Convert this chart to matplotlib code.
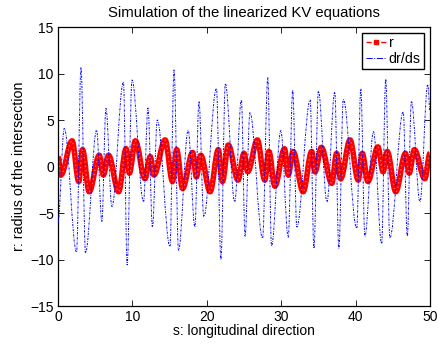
import matplotlib
matplotlib.use("Agg")
import matplotlib.pyplot as plt
from matplotlib.path import Path
from matplotlib.patches import PathPatch
from matplotlib.lines import Line2D

plt.rcParams['font.family'] = ['Liberation Sans', 'DejaVu Sans']
plt.rcParams['font.size'] = 10

# turning points of r(s)
r_s = [0.0, 0.4, 1.9, 2.8, 3.3, 4.2, 5.55, 6.1, 6.8, 8.15, 9.15, 9.6, 10.4,
       11.7, 12.4, 12.9, 14.4, 15.4, 15.95, 16.75, 18.1, 18.6, 19.2, 20.45,
       21.55, 22.1, 22.9, 24.2, 25.0, 25.5, 26.8, 27.8, 28.35, 29.15, 30.45,
       30.95, 31.6, 32.95, 34.1, 34.55, 35.4, 36.8, 37.45, 38.0, 39.25, 40.35,
       40.9, 41.65, 43.0, 43.7, 44.25, 45.4, 46.7, 47.2, 47.9, 49.3, 50.0]
r_val = [1.0, -0.9, 2.75, -1.6, 1.8, -2.7, 1.2, -0.9, 1.2, -2.7, 1.9, -0.7, 2.75,
         -1.3, 1.05, -0.9, 2.85, -1.6, 1.8, -2.35, 1.5, -1.1, 1.2, -2.7,
         1.8, -1.6, 2.3, -1.45, 1.4, -0.55, 2.85, -1.45, 1.6, -2.1, 1.9,
         -0.9, 1.6, -2.7, 1.6, -0.55, 2.05, -1.8, 1.4, -1.3, 2.85, -1.45,
         1.4, -1.6, 2.1, -0.55, 1.6, -2.7, 1.4, -0.7, 1.8, -1.3, 1.4]

# turning points of dr/ds
d_s = [0.0, 0.85, 2.5, 3.1, 3.7, 5.2, 5.9, 6.45, 7.25, 8.8, 9.3, 9.95, 11.5,
       12.1, 12.7, 13.35, 15.05, 15.6, 16.2, 17.5, 18.4, 18.95, 19.6, 21.3,
       21.9, 22.5, 23.75, 24.65, 25.15, 25.8, 27.5, 28.2, 28.7, 29.95, 30.95,
       31.55, 32.1, 33.9, 34.4, 35.0, 36.15, 37.2, 37.75, 38.35, 40.15, 40.7,
       41.25, 42.4, 43.5, 44.05, 44.6, 46.4, 46.95, 47.5, 48.65, 49.7, 50.0]
d_val = [-6.0, 4.1, -9.2, 10.65, -9.3, 3.9, -5.9, 6.25, -4.3, 9.1, -10.6, 9.3, -3.8,
         6.3, -6.5, 5.0, -8.6, 10.4, -9.0, 3.9, -6.5, 7.0, -5.4, 8.4,
         -10.0, 8.9, -3.8, 7.15, -7.5, 5.8, -7.7, 9.55, -8.55, 3.85, -7.6,
         8.2, -6.5, 7.15, -8.8, 8.1, -3.8, 8.0, -8.8, 7.2, -6.65, 8.35,
         -7.5, 3.75, -8.3, 9.4, -7.7, 5.9, -7.5, 7.0, -3.8, 8.8, 6.0]

x_ticks = [0, 10, 20, 30, 40, 50]
y_ticks = [-15, -10, -5, 0, 5, 10, 15]


def smooth_path(xs, ys, k=0.36):
    # bezier segments with flat tangents at each turning point
    verts = [(xs[0], ys[0])]
    codes = [Path.MOVETO]
    for i in range(len(xs) - 1):
        dx = xs[i + 1] - xs[i]
        verts += [(xs[i] + k * dx, ys[i]), (xs[i + 1] - k * dx, ys[i + 1]),
                  (xs[i + 1], ys[i + 1])]
        codes += [Path.CURVE4] * 3
    return Path(verts, codes)


fig = plt.figure(figsize=(4.39, 3.45), dpi=100)
ax = fig.add_axes([0.132, 0.113, 0.8475, 0.8087])

r_path = smooth_path(r_s, r_val)
ax.add_patch(PathPatch(r_path, fill=False, edgecolor=(1, 0, 0), lw=4.0, zorder=2))
ax.add_patch(PathPatch(r_path, fill=False, edgecolor='white', lw=0.9,
                       linestyle=(0, (1, 2.5)), alpha=0.45, zorder=2.1))

d_path = smooth_path(d_s, d_val)
ax.add_patch(PathPatch(d_path, fill=False, edgecolor=(0, 0, 1), lw=0.7,
                       linestyle=(0, (2.2, 1.2, 0.7, 1.2)), zorder=3))

ax.set_xlim(0, 50)
ax.set_ylim(-15, 15)
ax.set_xticks(x_ticks)
ax.set_yticks(y_ticks)
ax.tick_params(direction='in', top=True, right=True, length=4, width=0.6,
               labelsize=10, pad=3)
for sp in ax.spines.values():
    sp.set_linewidth(0.9)

ax.set_title("Simulation of the linearized KV equations", fontsize=10.7, pad=7)
ax.set_xlabel("s: longitudinal direction", fontsize=10, labelpad=0)
ax.set_ylabel("r: radius of the intersection", fontsize=10.3, labelpad=3)

handles = [Line2D([], [], color='r', ls='--', marker='s', ms=2.5, lw=1),
           Line2D([], [], color='b', ls='-.', lw=0.7)]
leg = ax.legend(handles, ['r', 'dr/ds'], loc='upper right', fontsize=10.3,
                fancybox=False, framealpha=1, edgecolor='black',
                handlelength=1.4, handletextpad=0.2, borderpad=0.25,
                labelspacing=0.1, borderaxespad=0.4)
leg.get_frame().set_linewidth(1.0)

fig.savefig("out.png", dpi=100)
